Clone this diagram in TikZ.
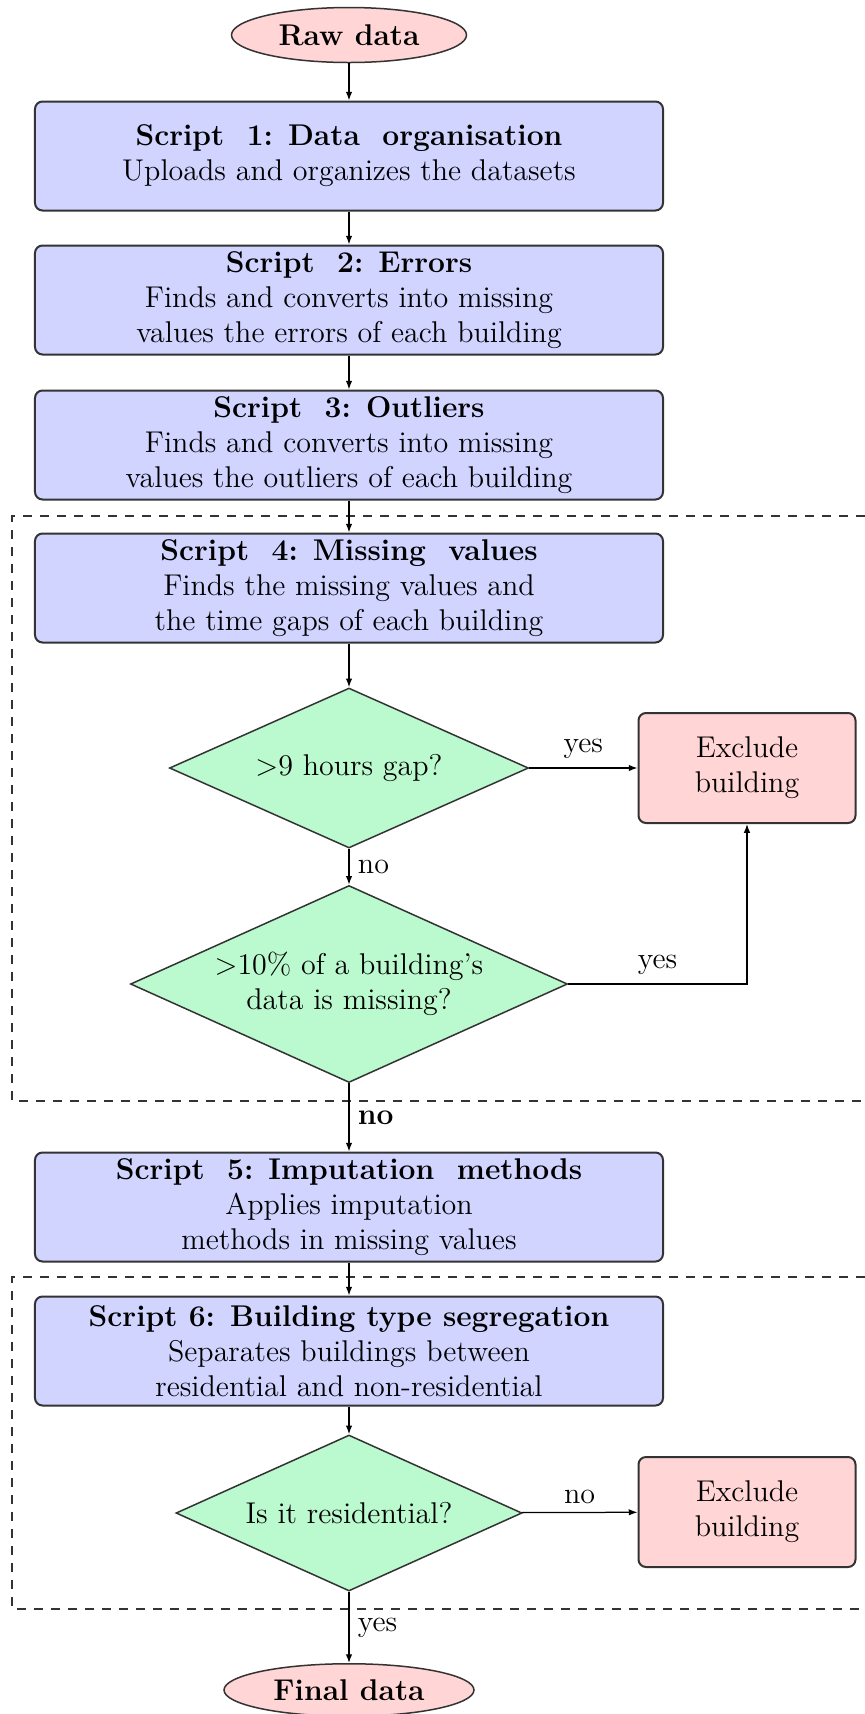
\documentclass[tikz,border=0pt]{standalone}
\usetikzlibrary{shapes.geometric,arrows.meta}
\definecolor{boxblue}{RGB}{208,212,255}
\definecolor{boxpink}{RGB}{255,213,213}
\definecolor{boxgreen}{RGB}{187,249,207}
\begin{document}
\begin{tikzpicture}[x=0.4pt,y=-0.4pt,
  every node/.style={font=\fontsize{12}{14}\selectfont},
  scriptbox/.style={draw=black!80, line width=0.8pt, rounded corners=3pt, fill=boxblue,
    minimum width=251.2pt, minimum height=43.6pt, inner sep=0pt, align=center},
  excbox/.style={draw=black!80, line width=0.8pt, rounded corners=3pt, fill=boxpink,
    minimum width=86.8pt, minimum height=44pt, inner sep=0pt, align=center},
  term/.style={ellipse, draw=black!80, line width=0.6pt, fill=boxpink, inner sep=0pt,
    font=\fontsize{12}{14}\selectfont\bfseries},
  decision/.style={diamond, draw=black!80, line width=0.6pt, fill=boxgreen, aspect=2.2,
    inner sep=0pt, align=center},
  flow/.style={-{Latex[length=3.5pt,width=2.6pt]}, line width=0.5pt},
  groupline/.style={line width=0.8pt, dash pattern=on 3.6pt off 3.2pt, draw=black!80}
]
\useasboundingbox (0,0) rectangle (865,1714);

% dashed groups
\draw[groupline] (865,516) -- (12,516) -- (12,1101) -- (865,1101);
\draw[groupline] (865,1277) -- (12,1277) -- (12,1609) -- (865,1609);

% nodes
\node[term, minimum width=94pt, minimum height=22pt] (raw) at (349,35) {Raw data};
\node[scriptbox] (s1) at (349,156) {\textbf{Script\ \ 1: Data\ \ organisation}\\Uploads and organizes the datasets};
\node[scriptbox] (s2) at (349,300) {\textbf{Script\ \ 2: Errors}\\Finds and converts into missing\\values the errors of each building};
\node[scriptbox] (s3) at (349,445) {\textbf{Script\ \ 3: Outliers}\\Finds and converts into missing\\values the outliers of each building};
\node[scriptbox] (s4) at (349,588) {\textbf{Script\ \ 4: Missing\ \ values}\\Finds the missing values and\\the time gaps of each building};
\node[decision, minimum width=143.6pt, minimum height=64pt] (d1) at (349,768) {$>$9 hours gap?};
\node[excbox] (ex1) at (747,768) {Exclude\\building};
\node[decision, minimum width=174.8pt, minimum height=78.8pt] (d2) at (349,984) {$>$10\% of a building's\\data is missing?};
\node[scriptbox] (s5) at (349,1207) {\textbf{Script\ \ 5: Imputation\ \ methods}\\Applies imputation\\methods in missing values};
\node[scriptbox] (s6) at (349,1351) {\textbf{Script 6: Building type segregation}\\Separates buildings between\\residential and non-residential};
\node[decision, minimum width=138.4pt, minimum height=62.4pt] (d3) at (349,1513) {Is it residential?};
\node[excbox] (ex2) at (747,1512) {Exclude\\building};
\node[term, minimum width=100pt, minimum height=21pt] (fin) at (349,1690) {Final data};

% connectors
\draw[flow] (raw) -- (s1);
\draw[flow] (s1) -- (s2);
\draw[flow] (s2) -- (s3);
\draw[flow] (s3) -- (s4);
\draw[flow] (s4) -- (d1);
\draw[flow] (d1) -- node[above] {yes} (ex1);
\draw[flow] (d1) -- node[right] {no} (d2);
\draw[flow] (d2.east) -| node[pos=0.25, above] {yes} (ex1.south);
\draw[flow] (d2) -- node[right] {\textbf{no}} (s5);
\draw[flow] (s5) -- (s6);
\draw[flow] (s6) -- (d3);
\draw[flow] (d3) -- node[above] {no} (ex2);
\draw[flow] (d3) -- node[right] {yes} (fin);
\end{tikzpicture}
\end{document}
